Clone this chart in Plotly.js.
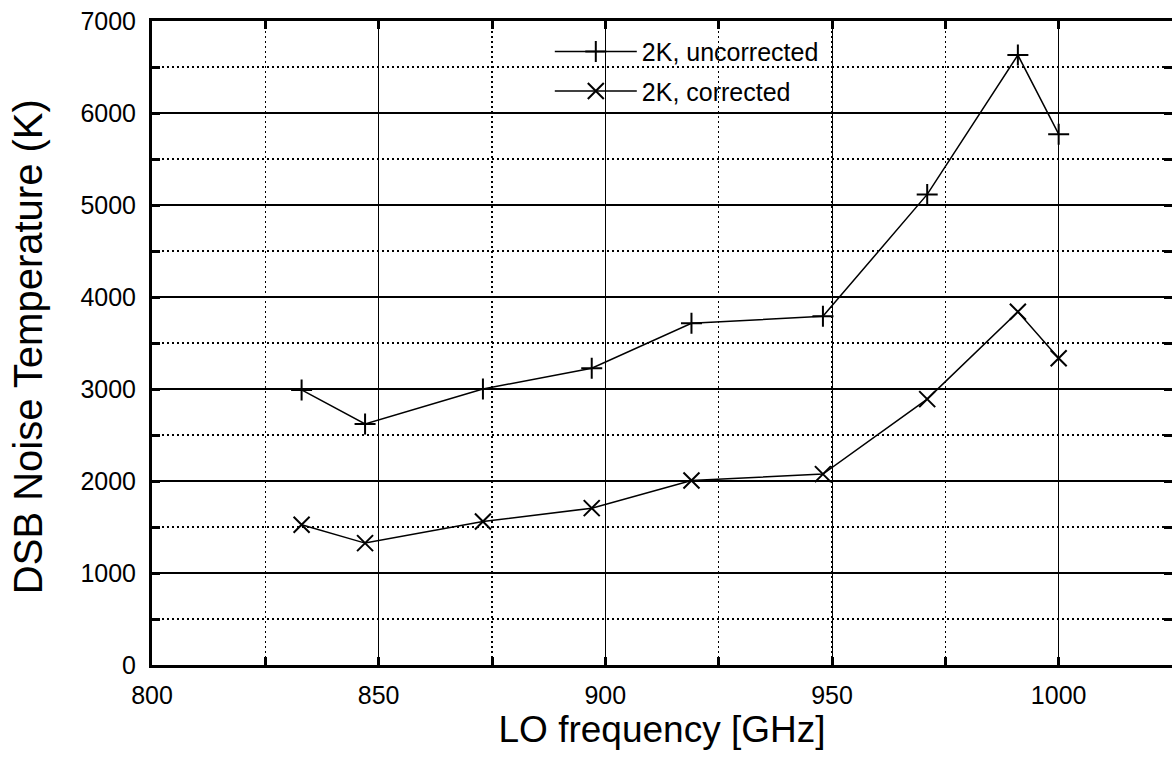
<!DOCTYPE html>
<html>
<head>
<meta charset="utf-8">
<script src="https://cdn.plot.ly/plotly-3.0.1.min.js"></script>
<style>
html,body{margin:0;padding:0;background:#fff;}
#chart{width:1172px;height:761px;}
</style>
</head>
<body>
<div id="chart"></div>
<script>
const loFreq = [833, 847, 873, 897, 919, 948, 971, 991, 1000];
const uncorrected = [2990, 2620, 3000, 3225, 3715, 3790, 5115, 6630, 5770];
const corrected = [1525, 1325, 1560, 1705, 2005, 2075, 2890, 3840, 3335];
const seriesNames = ["2K, uncorrected", "2K, corrected"];
const xTickVals = [800, 850, 900, 950, 1000];
const yTickVals = [0, 1000, 2000, 3000, 4000, 5000, 6000, 7000];
const yTitle = "DSB Noise Temperature (K)";
const xTitle = "LO frequency [GHz]";

const FONT = "Liberation Sans, Arial, Helvetica, sans-serif";

const traces = [
  {
    x: loFreq, y: uncorrected, name: seriesNames[0], type: "scatter", mode: "lines+markers",
    line: {color: "#000", width: 1.5},
    marker: {symbol: "cross-thin-open", size: 15, color: "#000", line: {color: "#000", width: 2}},
    legendgroup: "a"
  },
  {
    x: loFreq, y: corrected, name: seriesNames[1], type: "scatter", mode: "lines+markers",
    line: {color: "#000", width: 1.5},
    marker: {symbol: "x-thin-open", size: 16, color: "#000", line: {color: "#000", width: 2}},
    legendgroup: "b"
  }
];

const layout = {
  width: 1172, height: 761,
  margin: {l: 152, r: 0, t: 21, b: 96, pad: 0},
  paper_bgcolor: "#fff", plot_bgcolor: "#fff",
  font: {family: FONT, color: "#000", size: 25},
  showlegend: true,
  legend: {
    x: 0.39, xanchor: "left", y: 0.988, yanchor: "top",
    bgcolor: "rgba(0,0,0,0)", borderwidth: 0,
    font: {family: FONT, size: 25, color: "#000"},
    itemwidth: 82, tracegroupgap: 4
  },
  xaxis: {
    range: [800, 1025], tickvals: xTickVals, ticktext: xTickVals.map(String),
    showline: true, linecolor: "#000", linewidth: 3, mirror: "allticks",
    ticks: "inside", ticklen: 8, tickwidth: 3, tickcolor: "#000",
    showgrid: true, gridcolor: "#000", gridwidth: 1,
    minor: {dtick: 25, tick0: 800, showgrid: true, gridcolor: "#000", gridwidth: 1.2, griddash: "2px,3px", ticks: "inside", ticklen: 8, tickwidth: 3, tickcolor: "#000"},
    zeroline: false, ticklabelstandoff: 6,
    tickfont: {family: FONT, size: 25},
    title: {text: xTitle, font: {family: FONT, size: 37}, standoff: 6}
  },
  yaxis: {
    range: [0, 7000], tickvals: yTickVals, ticktext: yTickVals.map(String),
    showline: true, linecolor: "#000", linewidth: 3, mirror: "allticks",
    ticks: "inside", ticklen: 8, tickwidth: 3, tickcolor: "#000",
    showgrid: true, gridcolor: "#000", gridwidth: 2,
    minor: {dtick: 500, tick0: 0, showgrid: true, gridcolor: "#000", gridwidth: 1.5, griddash: "2px,3px", ticks: "inside", ticklen: 8, tickwidth: 3, tickcolor: "#000"},
    zeroline: false, ticklabelstandoff: 8,
    tickfont: {family: FONT, size: 25},
    title: {text: ""}
  },
  annotations: [
    {text: yTitle, xref: "paper", yref: "paper", x: -0.1216, y: 0.495, xanchor: "center", yanchor: "middle",
     textangle: -90, showarrow: false, font: {family: FONT, size: 40, color: "#000"}}
  ]
};

Plotly.newPlot("chart", traces, layout, {displayModeBar: false, staticPlot: true});
</script>
</body>
</html>
